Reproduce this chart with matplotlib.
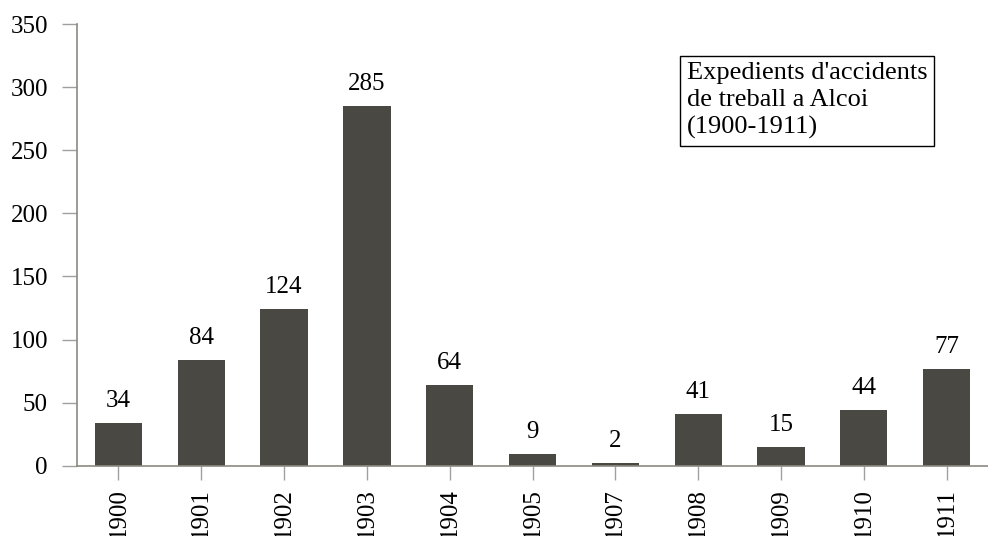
import numpy as np
from matplotlib import pyplot as plt

years = ["1900", "1901", "1902", "1903", "1904", "1905", "1907", "1908", "1909", "1910", "1911"]
counts = [34, 84, 124, 285, 64, 9, 2, 41, 15, 44, 77]

plt.rcParams['font.family'] = ['Liberation Serif', 'DejaVu Serif']

fig = plt.figure(figsize=(9.88, 5.36), dpi=100)
ax = fig.add_axes([0.078, 0.131, 0.922, 0.824])

x = np.arange(len(years))
bars = ax.bar(x, counts, width=0.57, color="#4a4842")

for xi, v in zip(x, counts):
    ax.annotate(str(v), (xi, v), xytext=(0, 8), textcoords="offset points",
                ha="center", va="bottom", fontsize=18)

ax.set_xlim(-0.5, len(years) - 0.5)
ax.set_ylim(0, 350)
ax.set_yticks(range(0, 351, 50))
ax.set_xticks(x)
ax.set_xticklabels(years, rotation=90, fontsize=18)
ax.tick_params(axis="y", labelsize=18, length=11, color="#a0a0a0", width=1, pad=10)
ax.tick_params(axis="x", length=10, color="#a0a0a0", width=1, pad=6)

for s in ["top", "right"]:
    ax.spines[s].set_visible(False)
for s in ["left", "bottom"]:
    ax.spines[s].set_color("#8c8a80")
    ax.spines[s].set_linewidth(1.2)

fig.text(0.695, 0.884, "Expedients d'accidents\nde treball a Alcoi\n(1900-1911)",
         fontsize=19, va="top", ha="left", linespacing=1.28,
         bbox=dict(boxstyle="square,pad=0.25", facecolor="white", edgecolor="black", linewidth=1))

plt.savefig("out.png")
